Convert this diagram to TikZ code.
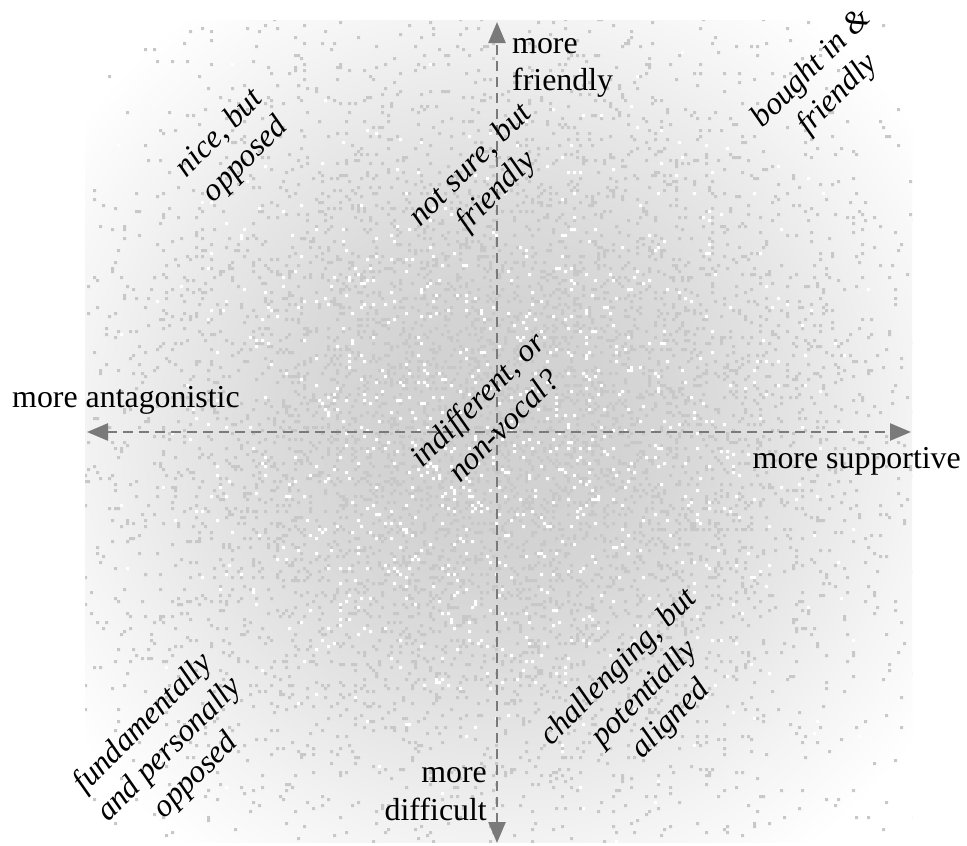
\documentclass[tikz,border=0pt]{standalone}
\usepackage{fontspec}
\setmainfont{Liberation Serif}
\usetikzlibrary{arrows.meta}
\definecolor{dotc}{RGB}{200,200,200}
\definecolor{axisc}{RGB}{122,122,122}
\definecolor{c0}{RGB}{208,208,208}
\definecolor{c1}{RGB}{211,211,211}
\definecolor{c2}{RGB}{219,219,219}
\definecolor{c3}{RGB}{231,231,231}
\definecolor{c4}{RGB}{244,244,244}
\pgfdeclareradialshading{cloud}{\pgfpoint{0bp}{0bp}}{color(0bp)=(c0);color(120bp)=(c1);color(220bp)=(c2);color(320bp)=(c3);color(420bp)=(c4);color(520bp)=(white);color(600bp)=(white)}
\begin{document}
\begin{tikzpicture}[x=1bp,y=-1bp,
  axis/.style={draw=axisc, line width=2.5bp, dash pattern=on 10bp off 6bp,
    {Triangle[length=21bp,width=17bp]}-{Triangle[length=21bp,width=17bp]}},
  lbl/.style={font=\fontsize{32}{37}\selectfont, inner sep=0pt},
  quad/.style={font=\itshape\fontsize{32}{37}\selectfont, rotate=45, align=center, inner sep=0pt}]
\useasboundingbox[fill=white] (0,0) rectangle (967,846);
\begin{scope}
  \clip (85,20) rectangle (912,842);
  \node[inner sep=0pt] (shade) at (497,432) {\pgfuseshading{cloud}};
  \pgfmathsetseed{2024}
  \foreach \k in {1,...,4} {
    \fill[dotc] \foreach \i in {1,...,1750} { ({3*round((497+200*(rand+rand+rand))/3)},{3*round((432+200*(rand+rand+rand))/3)}) rectangle ++(3,3) };
  }
  \fill[white] \foreach \i in {1,...,1000} { ({3*round((497+150*(rand+rand+rand))/3)},{3*round((432+150*(rand+rand+rand))/3)}) rectangle ++(3,3) };
\end{scope}
\coordinate (L) at (87,432);
\coordinate (R) at (911,432);
\coordinate (T) at (497,22);
\coordinate (B) at (497,843);
\draw[axis] (L) -- (R);
\draw[axis] (B) -- (T);
\node[lbl,anchor=base west] (mf1) at (512,53) {more};
\node[lbl,anchor=base west] (mf2) at (512,90) {friendly};
\node[lbl,anchor=base west] (ma) at (12,407) {more antagonistic};
\node[lbl,anchor=base east] (ms) at (961,468) {more supportive};
\node[lbl,anchor=base east] (md1) at (487,782) {more};
\node[lbl,anchor=base east] (md2) at (487,820) {difficult};
\node[quad] (q1) at (233,147) {nice, but\\opposed};
\node[quad] (q2) at (484,179) {not sure, but\\friendly};
\node[quad] (q3) at (825,82) {bought in \&\\friendly};
\node[quad] (q4) at (490,412) {indifferent, or\\non-vocal?};
\node[quad] (q5) at (170,750) {fundamentally\\and personally\\opposed};
\node[quad] (q6) at (645,694) {challenging, but\\potentially\\aligned};
\end{tikzpicture}
\end{document}
